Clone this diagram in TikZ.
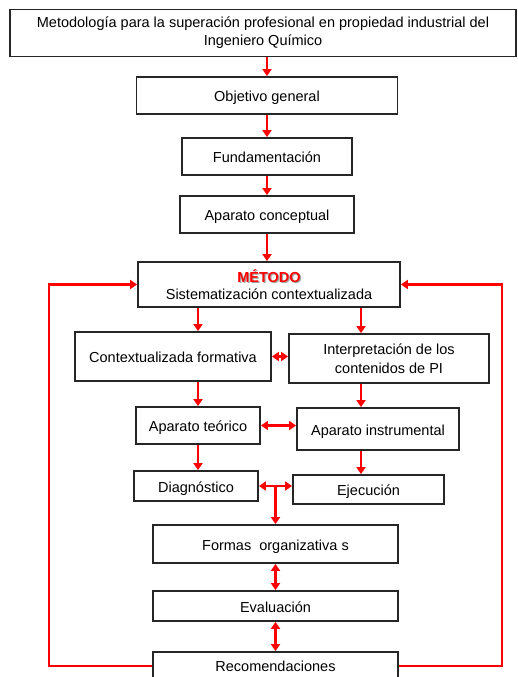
\documentclass[tikz,border=0pt]{standalone}
\usepackage{fontspec}
\setmainfont{Liberation Sans}
\usetikzlibrary{arrows.meta}
\begin{document}
\begin{tikzpicture}[x=1pt,y=-1pt,
  box/.style={draw=black!85, line width=1.8pt, fill=white, align=center, inner sep=2pt,
    text height=15pt, text depth=3pt, font=\fontsize{14.5}{19}\selectfont},
  mbox/.style={box, text height=, text depth=},
  arr/.style={draw=red, line width=2.6pt, -{Triangle[length=7pt,width=9pt]}},
  darr/.style={draw=red, line width=2.6pt, {Triangle[length=7pt,width=9pt]}-{Triangle[length=7pt,width=9pt]}},
  loopl/.style={draw=red, line width=2.6pt, -{Triangle[length=7pt,width=9pt]}}]
\useasboundingbox (0,0) rectangle (517,677);
\node[mbox, minimum width=506, minimum height=47, align=none] (title) at (263,33)
  {\raisebox{-2pt}{\begin{tabular}{@{}c@{}}Metodología para la superación profesional en propiedad industrial del\\[-1pt]Ingeniero Químico\end{tabular}}};
\node[box, minimum width=261, minimum height=37] (obj) at (267,95.5) {Objetivo general};
\node[box, minimum width=170, minimum height=37] (fund) at (267,156.5) {Fundamentación};
\node[box, minimum width=174, minimum height=37] (apc) at (267,214.5) {Aparato conceptual};
\node[mbox, minimum width=262, minimum height=45, inner sep=1pt, font=\fontsize{14.5}{17.5}\selectfont] (met) at (269,284.5)
  {\makebox[0pt][l]{\hspace{1.2pt}\raisebox{-1.2pt}{\textbf{\color{gray!70}MÉTODO}}}\textbf{\color{red}MÉTODO}\\Sistematización contextualizada};
\node[box, minimum width=196, minimum height=49] (ctx) at (173,356.5) {Contextualizada formativa};
\node[mbox, minimum width=200, minimum height=49] (int) at (389,358.5) {Interpretación de los\\contenidos de PI};
\node[box, minimum width=124, minimum height=37] (teo) at (198,425.5) {Aparato teórico};
\node[box, minimum width=162, minimum height=42] (ins) at (378,429) {Aparato instrumental};
\node[box, minimum width=124, minimum height=30] (diag) at (196,486) {Diagnóstico};
\node[box, minimum width=151, minimum height=29] (eje) at (368.5,489.5) {Ejecución};
\node[box, minimum width=245, minimum height=38] (form) at (275.5,544) {Formas\ \ organizativa s};
\node[box, minimum width=245, minimum height=30] (eva) at (275.5,606) {Evaluación};
\node[box, minimum width=245, minimum height=38, text height=13pt, text depth=13pt] (rec) at (275.5,671) {Recomendaciones};
\coordinate (colR) at (361,0);
\coordinate (colL) at (198,0);
% vertical chain
\draw[arr] (title.south -| obj.north) -- (obj.north);
\draw[arr] (obj.south) -- (obj.south |- fund.north);
\draw[arr] (fund.south) -- (fund.south |- apc.north);
\draw[arr] (apc.south) -- (apc.south |- met.north);
\draw[arr] (met.south -| colL) -- (ctx.north -| colL);
\draw[arr] (met.south -| colR) -- (int.north -| colR);
\draw[darr] (ctx.east) -- (ctx.east -| int.west);
\draw[arr] (ctx.south -| colL) -- (teo.north -| colL);
\draw[arr] (int.south -| colR) -- (ins.north -| colR);
\draw[darr] (teo.east) -- (teo.east -| ins.west);
\draw[arr] (teo.south -| colL) -- (diag.north -| colL);
\draw[arr] (ins.south -| colR) -- (eje.north -| colR);
\draw[darr] (diag.east) -- (diag.east -| eje.west);
\coordinate (jn) at (diag.east -| form.north);
\draw[arr] (jn) -- (form.north);
\draw[darr] (form.south) -- (eva.north);
\draw[darr] (eva.south) -- (eva.south |- rec.north);
% feedback loops
\draw[loopl] ([yshift=5pt]rec.west) -- ++(-103,0) |- (met.west);
\draw[loopl] ([yshift=5pt]rec.east) -- ++(103,0) |- (met.east);
\end{tikzpicture}
\end{document}
